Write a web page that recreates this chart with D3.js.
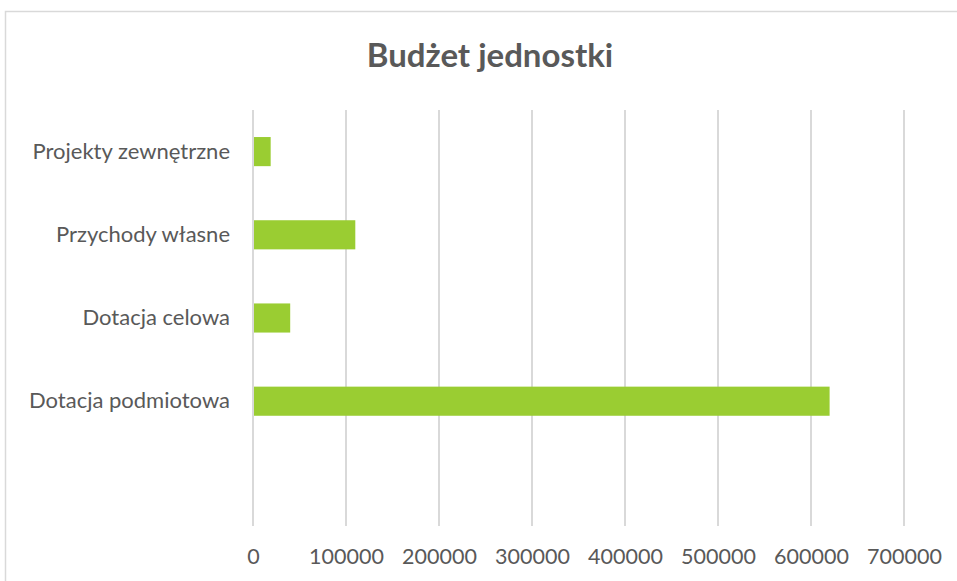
<!DOCTYPE html>
<html>
<head>
<meta charset="utf-8">
<script src="https://cdn.jsdelivr.net/npm/d3@7"></script>
<style>
  body { margin: 0; background: #fff; }
  text { font-family: Lato, "Open Sans", sans-serif; fill: #595959; }
</style>
</head>
<body>
<svg id="chart"></svg>
<script>
// categories in Excel order (bottom to top), first one is an empty row
const categories = ["", "Dotacja podmiotowa", "Dotacja celowa", "Przychody własne", "Projekty zewnętrzne"];
const values = [null, 620000, 40000, 110000, 19000];
const tickValues = [0, 100000, 200000, 300000, 400000, 500000, 600000, 700000];

const data = categories.map((c, i) => ({ name: c, value: values[i] }));

const W = 957, H = 581;
const plot = { left: 253, right: 904, top: 110, bottom: 526 };

const svg = d3.select("#chart")
  .attr("width", W)
  .attr("height", H);

// chart area border
svg.append("rect")
  .attr("x", 5.5)
  .attr("y", 11.5)
  .attr("width", 970)
  .attr("height", 600)
  .attr("fill", "#fff")
  .attr("stroke", "#d9d9d9")
  .attr("stroke-width", 1.5);

const xScale = d3.scaleLinear()
  .domain([0, 700000])
  .range([plot.left, plot.right]);

const yScale = d3.scaleBand()
  .domain(categories.slice().reverse())
  .range([plot.top, plot.bottom])
  .paddingInner(0.65)
  .paddingOuter(0.325);

// gridlines
svg.append("g")
  .selectAll("line")
  .data(tickValues)
  .enter()
  .append("line")
  .attr("x1", d => xScale(d))
  .attr("x2", d => xScale(d))
  .attr("y1", plot.top)
  .attr("y2", plot.bottom)
  .attr("stroke", "#d9d9d9")
  .attr("stroke-width", 2);

// bars
svg.append("g")
  .selectAll("rect")
  .data(data.filter(d => d.value != null))
  .enter()
  .append("rect")
  .attr("x", xScale(0) + 1)
  .attr("y", d => yScale(d.name))
  .attr("width", d => xScale(d.value) - xScale(0) - 1)
  .attr("height", yScale.bandwidth())
  .attr("fill", "#9acd32");

// x axis labels
const xAxis = d3.axisBottom(xScale)
  .tickValues(tickValues)
  .tickFormat(d3.format("d"))
  .tickSize(0)
  .tickPadding(23);

const gx = svg.append("g")
  .attr("transform", `translate(0,${plot.bottom})`)
  .call(xAxis);
gx.select(".domain").remove();
gx.selectAll("text")
  .style("font-size", "21.5px")
  .attr("fill", "#595959");

// y axis labels
const yAxis = d3.axisLeft(yScale)
  .tickSize(0)
  .tickPadding(23);

const gy = svg.append("g")
  .attr("transform", `translate(${plot.left},0)`)
  .call(yAxis);
gy.select(".domain").remove();
gy.selectAll("text")
  .style("font-size", "22px")
  .attr("fill", "#595959");

// title
svg.append("text")
  .attr("x", 490)
  .attr("y", 67)
  .attr("text-anchor", "middle")
  .style("font-size", "33px")
  .style("font-weight", "bold")
  .text("Budżet jednostki");
</script>
</body>
</html>
